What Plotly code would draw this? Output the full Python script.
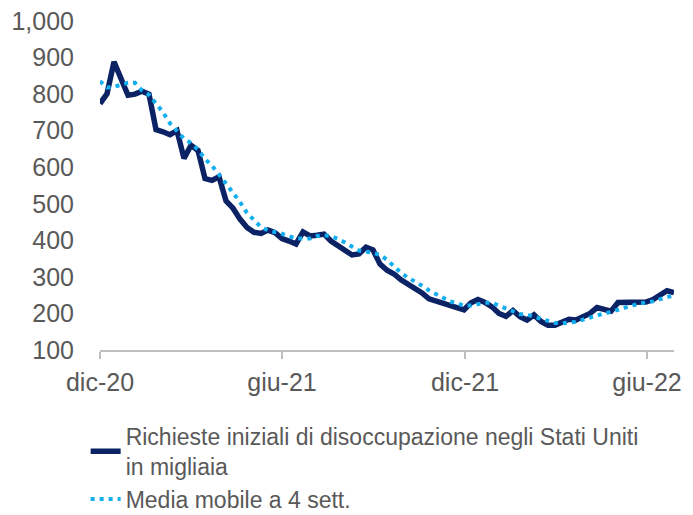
import pandas as pd
import plotly.graph_objects as go

# Weekly dates (Saturdays), Dec 2020 - Jul 2022
weeks = pd.date_range("2020-12-05", periods=83, freq="7D")

claims = [774, 801, 888, 843, 797, 800, 808, 800, 703, 697,
          689, 700, 624, 660, 646, 569, 564, 574, 508, 488,
          458, 435, 422, 419, 428, 421, 405, 398, 390, 423,
          412, 414, 417, 398, 386, 372, 360, 363, 381, 374,
          335, 318, 308, 292, 280, 270, 256, 240, 234, 227,
          224, 216, 210, 229, 238, 230, 218, 200, 192, 208,
          191, 182, 196, 178, 168, 168, 175, 184, 182, 193,
          200, 216, 212, 206, 230, 230, 229, 229, 231, 238,
          252, 262, 257]

moving_avg = [835, 818, 820, 826, 831, 831, 810, 798, 774, 750,
              720, 697, 678, 666, 648, 623, 604, 580, 556, 532,
              505, 475, 454, 436, 427, 423, 418, 411, 405, 405,
              405, 412, 414, 411, 404, 394, 383, 372, 369, 366,
              360, 347, 329, 311, 298, 288, 276, 263, 252, 242,
              233, 228, 221, 222, 225, 229, 229, 222, 214, 206,
              198, 197, 191, 185, 179, 174, 173, 174, 177, 183,
              189, 195, 200, 204, 211, 216, 221, 227, 230, 233,
              239, 245, 250]

tick_dates = ["2020-12-05", "2021-06-05", "2021-12-05", "2022-06-05"]
tick_labels = ["dic-20", "giu-21", "dic-21", "giu-22"]
y_ticks = [100, 200, 300, 400, 500, 600, 700, 800, 900, 1000]

name_claims = "Richieste iniziali di disoccupazione negli Stati Uniti<br>in migliaia"
name_ma = "Media mobile a 4 sett."

fig = go.Figure()
fig.add_trace(go.Scatter(
    x=weeks, y=claims, mode="lines", name=name_claims,
    line=dict(color="#0b2265", width=5.5),
))
fig.add_trace(go.Scatter(
    x=weeks, y=moving_avg, mode="lines", name=name_ma,
    line=dict(color="#12aeef", width=4, dash="4px,5px"),
))

font_family = "Liberation Sans, Arial, sans-serif"
fig.update_layout(
    width=685, height=507,
    margin=dict(l=92, r=19, t=13, b=165, autoexpand=False),
    paper_bgcolor="white", plot_bgcolor="white",
    font=dict(family=font_family, size=23, color="#595959"),
    showlegend=True,
    legend=dict(
        x=-0.025, y=-0.197, xanchor="left", yanchor="top",
        font=dict(size=23, color="#595959"),
        bgcolor="rgba(0,0,0,0)",
    ),
    xaxis=dict(
        type="date", automargin=False,
        range=["2020-12-05", "2022-07-02"],
        tickvals=tick_dates, ticktext=tick_labels,
        showgrid=False, zeroline=False,
        showline=True, linecolor="#bfbfbf", linewidth=2,
        ticks="outside", ticklen=7, tickwidth=2, tickcolor="#bfbfbf",
        tickfont=dict(size=25, color="#595959"),
        ticklabelstandoff=2, ticklabeloverflow="allow",
    ),
    yaxis=dict(
        automargin=False,
        range=[100, 1000],
        tickvals=y_ticks, tickformat=",",
        showgrid=False, zeroline=False, showline=False,
        ticks="", tickfont=dict(size=25, color="#595959"),
        ticklabelstandoff=25, ticklabeloverflow="allow",
    ),
)

fig.write_html("out.html")
